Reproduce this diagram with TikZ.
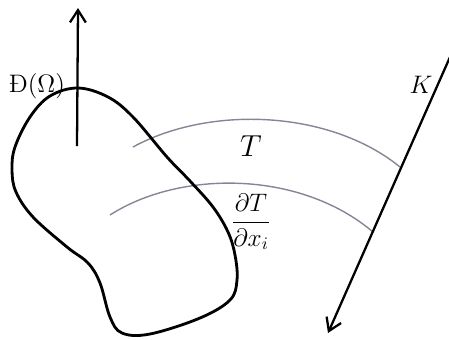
\documentclass[tikz,border=0pt]{standalone}
\usepackage{amsmath}
\usepackage{fontspec}
\usetikzlibrary{arrows.meta}
\definecolor{arcgray}{RGB}{140,130,150}
\tikzset{blob/.style={line width=1.6pt},
  level/.style={arcgray, line width=0.8pt},
  vec/.style={line width=1.3pt, -{Straight Barb[length=7pt,width=9pt,line width=1.3pt]}},
  lbl/.style={inner sep=1pt, font=\Large}}
\begin{document}
\begin{tikzpicture}[x=0.02cm, y=-0.02cm]
\useasboundingbox (0,0) rectangle (449,339);
% level lines T and dT/dx_i
\draw[level] (133,147) .. controls (210,105) and (330,110) .. (400,167);
\draw[level] (110,215) .. controls (180,170) and (300,170) .. (373,232);
% domain boundary
\draw[blob] plot[smooth cycle, tension=0.6] coordinates {(78,88) (108,97) (133,117) (167,157) (190,181) (213,207) (228,232) (235,255) (237,280) (230,300) (200,318) (150,334) (122,333) (110,317) (100,283) (88,263) (67,247) (33,217) (16,192) (12,170) (15,147) (30,117) (50,96)};
% normal and direction K
\coordinate (nbase) at (77,146);\coordinate (ntip) at (78,8);
\coordinate (ktop) at (450,57);\coordinate (kend) at (328,333);
\draw[vec] (nbase) -- (ntip);
\draw[vec] (ktop) -- (kend);
\node[lbl] (dom) at (37,86) {Đ$(\Omega)$};
\node[lbl] (kay) at (421,85) {$K$};
\node[lbl, font=\LARGE] (tee) at (251,146) {$T$};
\node[lbl] (grad) at (251,222) {$\dfrac{\partial T}{\partial x_i}$};
\end{tikzpicture}
\end{document}
